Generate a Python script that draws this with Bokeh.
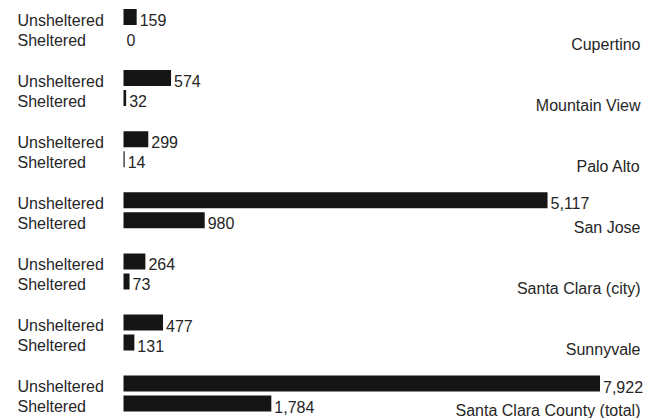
from bokeh.plotting import figure
from bokeh.models import ColumnDataSource, Range1d, LabelSet, BoxAnnotation
from bokeh.core.properties import value
from bokeh.embed import file_html
from bokeh.resources import INLINE

# Homeless counts by place
places = ["Cupertino", "Mountain View", "Palo Alto", "San Jose",
          "Santa Clara (city)", "Sunnyvale", "Santa Clara County (total)"]
unsheltered = [159, 574, 299, 5117, 264, 477, 7922]
sheltered = [0, 32, 14, 980, 73, 131, 1784]
status_labels = ["Unsheltered", "Sheltered"]

# Layout (pixels)
W, H = 645, 418
LEFT = 123          # where the bars start
BAR_END = 599.5     # bars longer than X_MAX are cut off here
FIRST_ROW = 16.5    # centre of the first bar
GROUP_PITCH = 61.1  # distance between place groups
ROW_GAP = 20        # distance between the two bars of a group
BAR_H = 16
X_MAX = 5750
FONT = value("Liberation Sans")
TEXT_COLOR = "#262626"
BAR_COLOR = "#151515"

px = X_MAX / (BAR_END - LEFT)  # data units per pixel

ys, vals, texts, status = [], [], [], []
name_y = []
for i, place in enumerate(places):
    y_u = FIRST_ROW + i * GROUP_PITCH
    y_s = y_u + ROW_GAP
    for y, v, s in ((y_u, unsheltered[i], status_labels[0]),
                    (y_s, sheltered[i], status_labels[1])):
        ys.append(y)
        vals.append(v)
        texts.append(f"{v:,}")
        status.append(s)
    name_y.append(y_s + 4)

bars = ColumnDataSource(dict(
    y=ys, value=vals, text=texts, status=status,
    label_x=[min(v, X_MAX) for v in vals],
    left_x=[-(LEFT - 17) * px] * len(ys),
))
names = ColumnDataSource(dict(
    y=name_y, name=places, x=[(640 - LEFT) * px] * len(places),
))

p = figure(width=W, height=H, output_backend="svg", toolbar_location=None,
           x_range=Range1d(-LEFT * px, (W - LEFT) * px), y_range=Range1d(H, 0),
           min_border=0)
p.axis.visible = False
p.grid.visible = False
p.outline_line_color = None
p.background_fill_color = "white"
p.border_fill_color = "white"

p.hbar(y="y", left=0, right="value", height=BAR_H, source=bars,
       fill_color=BAR_COLOR, line_color=None)

# cut the longest bars off at X_MAX
p.add_layout(BoxAnnotation(left=X_MAX, fill_color="white", fill_alpha=1.0,
                           line_color=None))

common = dict(text_font=FONT, text_font_size="16px", text_color=TEXT_COLOR,
              text_baseline="middle", y_offset=-3)

p.add_layout(LabelSet(x="label_x", y="y", text="text", source=bars,
                      x_offset=3, text_align="left", **common))
p.add_layout(LabelSet(x="left_x", y="y", text="status", source=bars,
                      text_align="left", **common))
p.add_layout(LabelSet(x="x", y="y", text="name", source=names,
                      text_align="right", **common))

open("out.html", "w").write(file_html(p, INLINE))
